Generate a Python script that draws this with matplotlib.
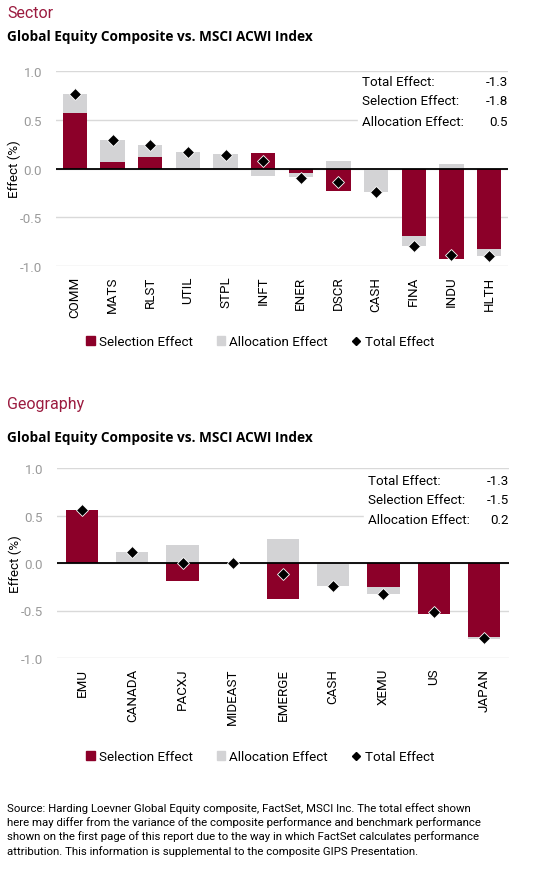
import numpy as np
import matplotlib.pyplot as plt
from matplotlib.patches import Patch, Rectangle
from matplotlib.lines import Line2D

plt.rcParams['font.family'] = ['Roboto', 'DejaVu Sans']

# ----------------------------------------------------------------------
# data
sector_labels = ['COMM', 'MATS', 'RLST', 'UTIL', 'STPL', 'INFT',
                 'ENER', 'DSCR', 'CASH', 'FINA', 'INDU', 'HLTH']
sector_selection = [0.57, 0.07, 0.12, 0.00, -0.01, 0.16,
                    -0.05, -0.23, 0.00, -0.69, -0.93, -0.83]
sector_allocation = [0.19, 0.22, 0.12, 0.17, 0.15, -0.075,
                     -0.04, 0.08, -0.24, -0.10, 0.045, -0.07]
sector_total = [0.76, 0.29, 0.24, 0.17, 0.14, 0.08,
                -0.10, -0.14, -0.24, -0.79, -0.89, -0.90]
sector_summary = ['-1.3', '-1.8', '0.5']

geo_labels = ['EMU', 'CANADA', 'PACXJ', 'MIDEAST', 'EMERGE',
              'CASH', 'XEMU', 'US', 'JAPAN']
geo_selection = [0.56, 0.00, -0.19, 0.00, -0.38, 0.00, -0.25, -0.535, -0.78]
geo_allocation = [0.00, 0.115, 0.19, 0.00, 0.255, -0.24, -0.08, 0.01, -0.015]
geo_total = [0.56, 0.12, 0.00, 0.00, -0.12, -0.24, -0.33, -0.52, -0.79]
geo_summary = ['-1.3', '-1.5', '0.2']

summary_names = ['Total Effect:', 'Selection Effect:', 'Allocation Effect:']
yticks = [-1.0, -0.5, 0.0, 0.5, 1.0]

footer = ("Source: Harding Loevner Global Equity composite, FactSet, MSCI Inc. The total effect shown\n"
          "here may differ from the variance of the composite performance and benchmark performance\n"
          "shown on the first page of this report due to the way in which FactSet calculates performance\n"
          "attribution. This information is supplemental to the composite GIPS Presentation.")

SEL = '#8c0029'
ALLOC = '#d3d3d5'
RED = '#9b1b3f'
W, H = 541, 879
FS = 9.6


def fx(px):
    return px / W


def fy(py):
    return 1 - py / H


def attribution_panel(ax, labels, sel, alloc, total, summary, rows_y, name_x, legend_y):
    x = np.arange(len(labels))
    sel = np.array(sel)
    alloc = np.array(alloc)
    # excel-like stacking: positives stack up from 0, negatives down from 0
    alloc_bottom = np.where(alloc >= 0, np.maximum(sel, 0), np.minimum(sel, 0))
    ax.bar(x, sel, width=0.64, color=SEL, zorder=2)
    ax.bar(x, alloc, width=0.64, bottom=alloc_bottom, color=ALLOC, zorder=2)
    ax.axhline(0, color='black', lw=1.3, zorder=3)
    ax.plot(x, total, 'D', color='black', ms=6.5, mec='white', mew=0.6, zorder=4)

    ax.set_xlim(-0.5, len(labels) - 0.5)
    ax.set_ylim(-1.0, 1.0)
    ax.set_yticks(yticks)
    ax.set_yticklabels([f'{v:.1f}' for v in yticks], color='#9a9a9a', fontsize=FS)
    ax.set_xticks(x)
    ax.set_xticklabels(labels, rotation=90, fontsize=FS)
    ax.tick_params(axis='both', length=0)
    ax.tick_params(axis='y', pad=10)
    ax.tick_params(axis='x', pad=7)
    ax.grid(axis='y', color='#d9d9d9', lw=1.0, zorder=0)
    ax.set_axisbelow(True)
    for s in ax.spines.values():
        s.set_visible(False)
    ax.set_ylabel('Effect (%)', fontsize=FS)
    ax.yaxis.set_label_coords(-0.078, 0.5)

    # summary box (white background hides the gridline behind it)
    fig = ax.figure
    pos = ax.get_position()
    box_left = fx(name_x - 4)
    fig.patches.append(Rectangle((box_left, fy(rows_y[-1] + 9)), pos.x1 - box_left,
                                 fy(rows_y[0] - 9) - fy(rows_y[-1] + 9),
                                 transform=fig.transFigure, color='white', zorder=1))
    for nm, val, ry in zip(summary_names, summary, rows_y):
        fig.text(fx(name_x), fy(ry), nm, fontsize=FS, va='center', ha='left', zorder=5)
        fig.text(pos.x1, fy(ry), val, fontsize=FS, va='center', ha='right', zorder=5)

    handles = [Patch(color=SEL), Patch(color=ALLOC),
               Line2D([], [], marker='D', color='black', ls='none', ms=4)]
    fig.legend(handles, ['Selection Effect', 'Allocation Effect', 'Total Effect'],
               loc='center left', bbox_to_anchor=(fx(86), fy(legend_y)), ncol=3,
               frameon=False, fontsize=FS, handlelength=0.65, handleheight=0.65,
               handletextpad=0.3, columnspacing=1.8, borderaxespad=0, borderpad=0)


fig = plt.figure(figsize=(W / 100, H / 100), dpi=100)

# Sector
fig.text(fx(7), fy(14), 'Sector', color=RED, fontsize=11.5, va='center')
fig.text(fx(7), fy(37), 'Global Equity Composite vs. MSCI ACWI Index',
         fontsize=9.8, fontweight='bold', va='center', family='Open Sans')
ax1 = fig.add_axes([fx(56), fy(267), fx(452), 195 / H])
attribution_panel(ax1, sector_labels, sector_selection, sector_allocation,
                  sector_total, sector_summary, [83, 102, 122], 362, 343)

# Geography
fig.text(fx(7), fy(405), 'Geography', color=RED, fontsize=11.5, va='center')
fig.text(fx(7), fy(438), 'Global Equity Composite vs. MSCI ACWI Index',
         fontsize=9.8, fontweight='bold', va='center', family='Open Sans')
ax2 = fig.add_axes([fx(57), fy(659), fx(452), 190 / H])
attribution_panel(ax2, geo_labels, geo_selection, geo_allocation,
                  geo_total, geo_summary, [482, 501, 521], 368, 758)

fig.text(fx(7), fy(803), footer, fontsize=8.2, va='top', ha='left', linespacing=1.38)

fig.savefig('out.png', dpi=100)
